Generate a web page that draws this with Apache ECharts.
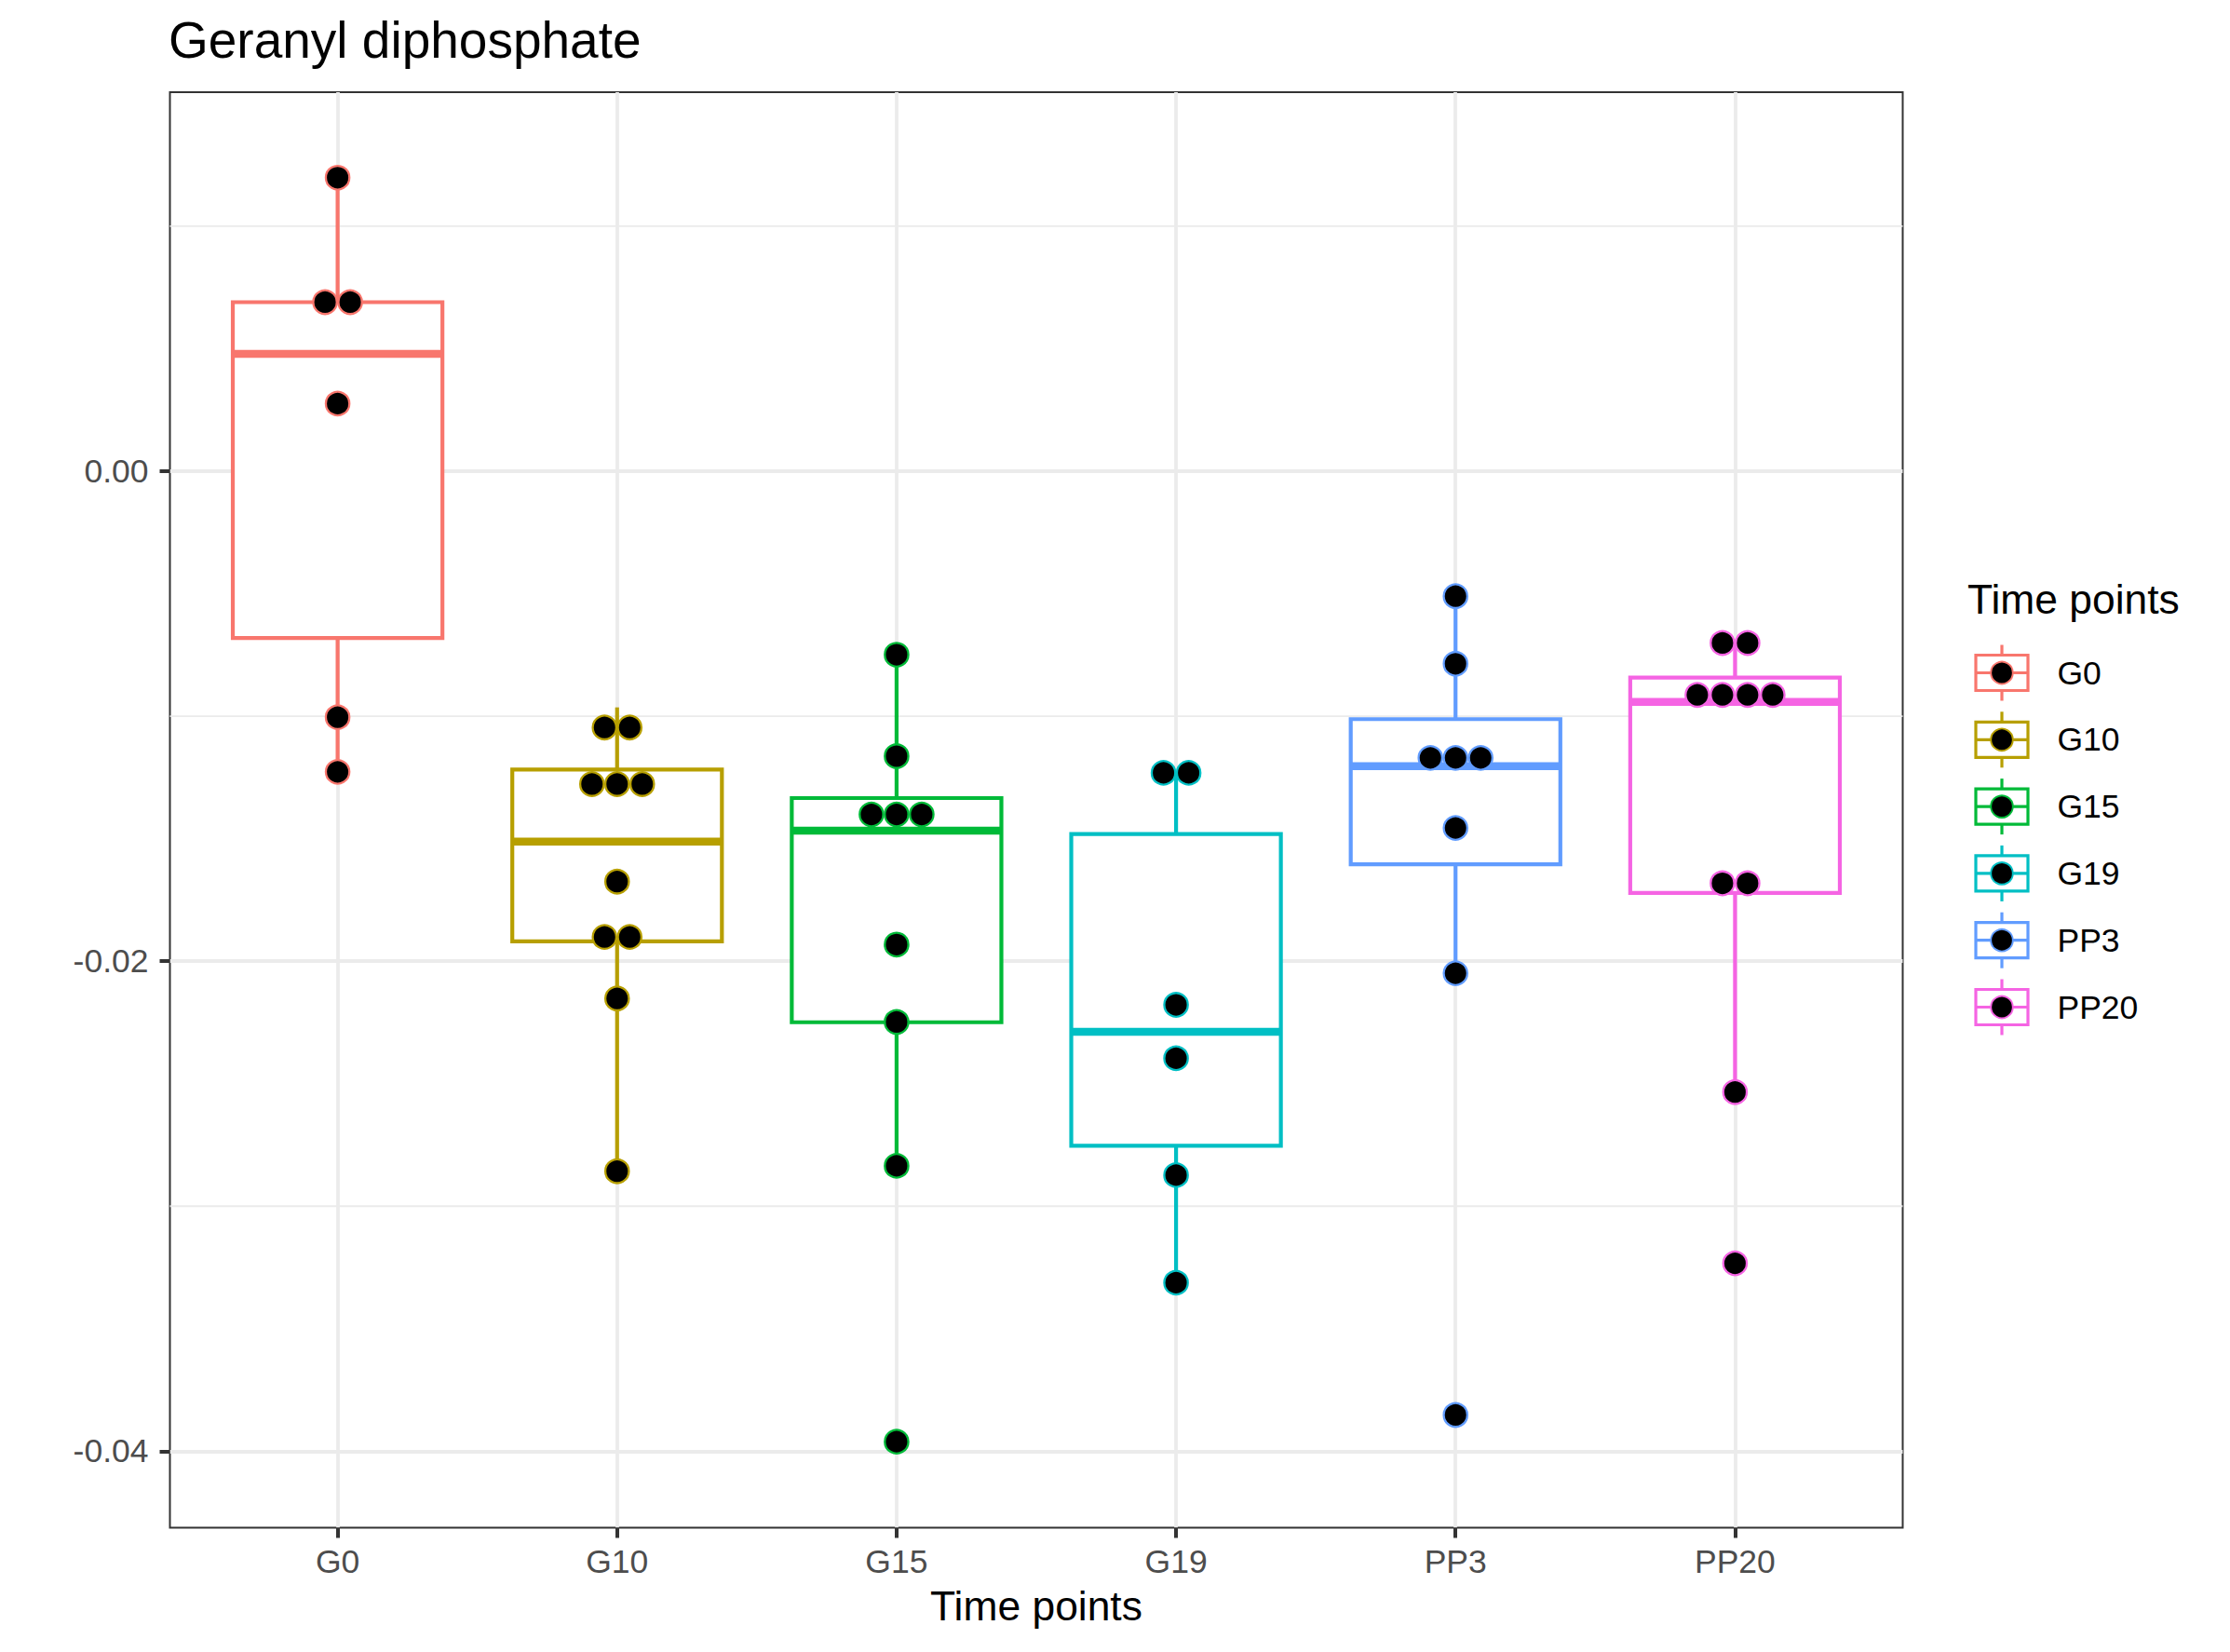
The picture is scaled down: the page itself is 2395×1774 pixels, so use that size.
<!DOCTYPE html>
<html><head><meta charset="utf-8">
<script src="https://cdn.jsdelivr.net/npm/echarts@6/dist/echarts.min.js"></script>
<style>html,body{margin:0;padding:0;background:#fff}#c{width:2395px;height:1774px}</style>
</head><body><div id="c"></div>
<script>
// ---- data ----
const categories = ['G0', 'G10', 'G15', 'G19', 'PP3', 'PP20'];
const colors = ['#F8766D', '#B79F00', '#00BA38', '#00BFC4', '#619CFF', '#F564E3'];

// dot (bin) values per group
const pointsG0   = [0.01198, 0.0069, 0.0069, 0.00276, -0.01004, -0.01227];
const pointsG10  = [-0.01046, -0.01046, -0.01277, -0.01277, -0.01277, -0.01675, -0.01901, -0.01901, -0.02152, -0.02857];
const pointsG15  = [-0.00749, -0.01163, -0.01401, -0.01401, -0.01401, -0.01932, -0.02248, -0.02835, -0.03961];
const pointsG19  = [-0.01231, -0.01231, -0.02178, -0.02396, -0.02873, -0.03312];
const pointsPP3  = [-0.0051, -0.00786, -0.0117, -0.0117, -0.0117, -0.01456, -0.02049, -0.03852];
const pointsPP20 = [-0.00701, -0.00701, -0.00913, -0.00913, -0.00913, -0.00913, -0.01682, -0.01682, -0.02534, -0.03233];

// box stats: [lower whisker, Q1, median, Q3, upper whisker]
const boxG0   = [-0.01227, -0.00681, 0.00479, 0.0069, 0.01198];
const boxG10  = [-0.02857, -0.01919, -0.01512, -0.01218, -0.00964];
const boxG15  = [-0.02835, -0.02249, -0.01467, -0.01334, -0.00749];
const boxG19  = [-0.03312, -0.02753, -0.02288, -0.01481, -0.01231];
const boxPP3  = [-0.02049, -0.01604, -0.01204, -0.01012, -0.0051];
const boxPP20 = [-0.02534, -0.01721, -0.00942, -0.00842, -0.00701];

const yMajorTicks = [-0.04, -0.02, 0];
const yMinorBreaks = [-0.03, -0.01, 0.01];
const yLimits = [-0.04312, 0.01547];
const xLimits = [-0.6, 5.6];

const titleText = 'Geranyl diphosphate';
const xTitle = 'Time points';
const legendTitle = 'Time points';

// ---- styling / layout ----
const FONT = '"Liberation Sans", Arial, Helvetica, sans-serif';
const BOX_LW = 4.2, MED_LW = 8.5, HALF_W = 0.375;
const DOT_SIZE = 25.3, DOT_BORDER = 2.3, DOT_STEP = 27;
const allPoints = [pointsG0, pointsG10, pointsG15, pointsG19, pointsPP3, pointsPP20];
const allBoxes = [boxG0, boxG10, boxG15, boxG19, boxPP3, boxPP20];
const xIndex = categories.map((c, i) => i);

function boxRender(params, api) {
  const i = api.value(0);
  const lo = api.value(1), q1 = api.value(2), med = api.value(3), q3 = api.value(4), hi = api.value(5);
  const tl = api.coord([i - HALF_W, q3]);
  const br = api.coord([i + HALF_W, q1]);
  const cHi = api.coord([i, hi]), cQ3 = api.coord([i, q3]), cQ1 = api.coord([i, q1]), cLo = api.coord([i, lo]);
  const mL = api.coord([i - HALF_W, med]), mR = api.coord([i + HALF_W, med]);
  const color = api.visual('color');
  return {
    type: 'group',
    children: [
      { type: 'line', shape: { x1: cHi[0], y1: cHi[1], x2: cQ3[0], y2: cQ3[1] }, style: { stroke: color, lineWidth: BOX_LW } },
      { type: 'line', shape: { x1: cQ1[0], y1: cQ1[1], x2: cLo[0], y2: cLo[1] }, style: { stroke: color, lineWidth: BOX_LW } },
      { type: 'rect', shape: { x: tl[0], y: tl[1], width: br[0] - tl[0], height: br[1] - tl[1] },
        style: { fill: '#ffffff', stroke: color, lineWidth: BOX_LW, lineJoin: 'miter' } },
      { type: 'line', shape: { x1: mL[0], y1: mL[1], x2: mR[0], y2: mR[1] }, style: { stroke: color, lineWidth: MED_LW, lineCap: 'butt' } }
    ]
  };
}

function dotData(vals, idx) {
  const counts = {}, seen = {};
  vals.forEach(v => { counts[v] = (counts[v] || 0) + 1; });
  return vals.map(v => {
    const k = seen[v] || 0; seen[v] = k + 1;
    const n = counts[v];
    return { value: [idx, v], symbolOffset: [(k - (n - 1) / 2) * DOT_STEP, 0] };
  });
}

const series = [];
series.push({
  type: 'custom', name: 'minor-grid', silent: true, z: 1,
  data: yMinorBreaks.map(v => [0, v]),
  renderItem: (p, api) => {
    const a = api.coord([xLimits[0], api.value(1)]);
    const b = api.coord([xLimits[1], api.value(1)]);
    return { type: 'line', shape: { x1: a[0], y1: a[1], x2: b[0], y2: b[1] }, style: { stroke: '#EBEBEB', lineWidth: 1.9 } };
  }
});
categories.forEach((cat, i) => {
  series.push({
    type: 'custom', name: cat, z: 2, silent: true,
    itemStyle: { color: colors[i] },
    data: [[xIndex[i]].concat(allBoxes[i])],
    renderItem: boxRender
  });
});
categories.forEach((cat, i) => {
  series.push({
    type: 'scatter', name: cat, z: 3, silent: true,
    symbol: 'circle', symbolSize: DOT_SIZE,
    itemStyle: { color: '#000000', borderColor: colors[i], borderWidth: DOT_BORDER, opacity: 1 },
    emphasis: { disabled: true },
    data: dotData(allPoints[i], xIndex[i])
  });
});

// legend keys (graphic)
const LEG_LEFT = 2120.5, LEG_TOP = 692.75, LEG_ITEM_H = 59.5, LEG_STEP = 71.8;
const KEY_CX = 2150, KEY_W = 56, KEY_H = 38, KEY_STUB = 11, KEY_LW = 3.2;
const graphics = [];
categories.forEach((cat, i) => {
  const cy = LEG_TOP + LEG_ITEM_H / 2 + i * LEG_STEP;
  const c = colors[i];
  graphics.push({ type: 'line', silent: true, shape: { x1: KEY_CX, y1: cy - KEY_H / 2 - KEY_STUB, x2: KEY_CX, y2: cy - KEY_H / 2 }, style: { stroke: c, lineWidth: KEY_LW } });
  graphics.push({ type: 'line', silent: true, shape: { x1: KEY_CX, y1: cy + KEY_H / 2, x2: KEY_CX, y2: cy + KEY_H / 2 + KEY_STUB }, style: { stroke: c, lineWidth: KEY_LW } });
  graphics.push({ type: 'rect', silent: true, shape: { x: KEY_CX - KEY_W / 2, y: cy - KEY_H / 2, width: KEY_W, height: KEY_H }, style: { fill: '#fff', stroke: c, lineWidth: KEY_LW } });
  graphics.push({ type: 'line', silent: true, shape: { x1: KEY_CX - KEY_W / 2, y1: cy, x2: KEY_CX + KEY_W / 2, y2: cy }, style: { stroke: c, lineWidth: KEY_LW } });
  graphics.push({ type: 'circle', silent: true, shape: { cx: KEY_CX, cy: cy, r: 11.8 }, style: { fill: '#000', stroke: c, lineWidth: 1.9 } });
});
graphics.push({ type: 'text', silent: true, x: 2113, y: 643.3,
  style: { text: legendTitle, fontSize: 44.4, fontFamily: FONT, fill: '#000', verticalAlign: 'middle', align: 'left' } });

const option = {
  animation: false,
  backgroundColor: '#ffffff',
  title: {
    text: titleText, left: 181, top: 15.5, padding: 0,
    textStyle: { fontSize: 55, fontWeight: 'normal', color: '#000', fontFamily: FONT, lineHeight: 55 }
  },
  grid: { left: 182.5, right: 351.5, top: 99, bottom: 133.5, show: true, borderColor: '#333333', borderWidth: 2, backgroundColor: '#ffffff', containLabel: false },
  xAxis: {
    type: 'value', min: xLimits[0], max: xLimits[1],
    axisLine: { show: false, onZero: false },
    axisTick: { show: true, customValues: xIndex, length: 11, lineStyle: { color: '#333333', width: 4 } },
    axisLabel: { customValues: xIndex, formatter: v => categories[Math.round(v)], margin: 18.5, fontSize: 35.5, lineHeight: 36, color: '#4D4D4D', fontFamily: FONT },
    splitLine: { show: true, lineStyle: { color: '#EBEBEB', width: 3.8 } },
    name: xTitle, nameLocation: 'middle', nameGap: 62,
    nameTextStyle: { fontSize: 44.4, lineHeight: 44, color: '#000', fontFamily: FONT }
  },
  yAxis: {
    type: 'value', min: yLimits[0], max: yLimits[1],
    axisLine: { show: false, onZero: false },
    axisTick: { show: true, customValues: yMajorTicks, length: 11, lineStyle: { color: '#333333', width: 4 } },
    axisLabel: { customValues: yMajorTicks, formatter: v => (Math.abs(v) < 1e-9 ? 0 : v).toFixed(2), margin: 23, fontSize: 35.5, color: '#4D4D4D', fontFamily: FONT },
    splitLine: { show: true, lineStyle: { color: '#EBEBEB', width: 3.8 } }
  },
  legend: {
    orient: 'vertical', left: LEG_LEFT, top: LEG_TOP, padding: 0,
    itemWidth: 84, itemHeight: LEG_ITEM_H, itemGap: LEG_STEP - LEG_ITEM_H,
    icon: 'rect', selectedMode: false,
    itemStyle: { color: 'rgba(0,0,0,0)', borderWidth: 0, opacity: 0 },
    textStyle: { fontSize: 35.5, color: '#000', fontFamily: FONT },
    data: categories
  },
  graphic: graphics,
  series: series
};

const chart = echarts.init(document.getElementById('c'), null, { renderer: 'svg' });
chart.setOption(option);
</script>
</body></html>
